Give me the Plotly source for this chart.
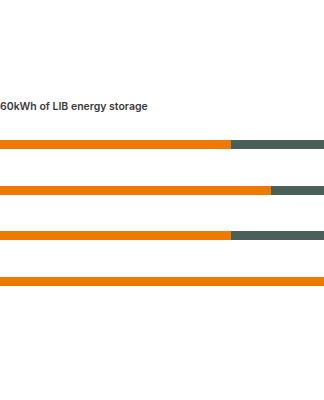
import plotly.graph_objects as go

categories = ["A", "B", "C", "D"]
primary = [71.4, 83.7, 71.4, 100.0]
remainder = [28.6, 16.3, 28.6, 0.0]
title_text = "60kWh of LIB energy storage"

fig = go.Figure()
fig.add_trace(go.Bar(y=categories, x=primary, orientation="h", width=0.2,
                     marker=dict(color="#EE7A03", line=dict(width=0)), hoverinfo="skip"))
fig.add_trace(go.Bar(y=categories, x=remainder, orientation="h", width=0.2,
                     marker=dict(color="#4A5F59", line=dict(width=0)), hoverinfo="skip"))

fig.update_layout(
    barmode="stack",
    width=324, height=400,
    margin=dict(l=0, r=0, t=122, b=96),
    paper_bgcolor="white", plot_bgcolor="white",
    showlegend=False,
    title=dict(text=title_text, x=0, xref="paper", xanchor="left",
               y=1 - 106 / 400, yref="container", yanchor="middle",
               font=dict(family="Inter", size=10.5, weight=600, color="#3A3A3A")),
    xaxis=dict(range=[0, 100], visible=False, fixedrange=True),
    yaxis=dict(autorange="reversed", visible=False, fixedrange=True),
)

fig.write_html("out.html")
